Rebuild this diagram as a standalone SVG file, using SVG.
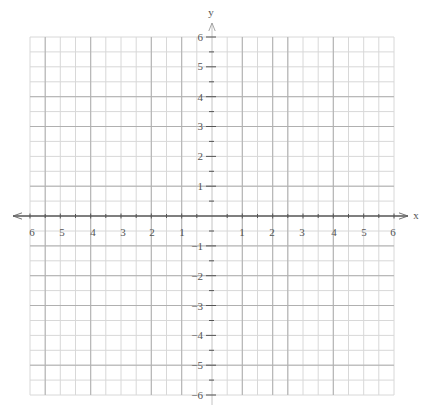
<svg xmlns="http://www.w3.org/2000/svg" width="422" height="405" viewBox="0 0 422 405">
<defs>
<style>
.g{stroke:#d8d8d8;stroke-width:1;fill:none}
.d{stroke:#b0b0b0;stroke-width:1;fill:none}
.ax{stroke:#555;stroke-width:1.3;fill:none}
.ya{stroke:#c4c4c4;stroke-width:1;fill:none}
.tk{stroke:#555;stroke-width:1;fill:none}
.t{font-family:"Liberation Serif",serif;font-size:11px;fill:#555}
.tx{text-anchor:middle}
.ty{text-anchor:end}
</style>
<marker id="ar" viewBox="0 0 10 10" refX="10" refY="5" markerWidth="9" markerHeight="9" markerUnits="userSpaceOnUse" orient="auto">
<path d="M0,1.5 L10,5 L0,8.5" fill="none" stroke="#666" stroke-width="1"/>
</marker>
<marker id="ary" viewBox="0 0 10 10" refX="10" refY="5" markerWidth="8" markerHeight="8" markerUnits="userSpaceOnUse" orient="auto">
<path d="M0,1 L10,5 L0,9" fill="none" stroke="#999" stroke-width="1.1"/>
</marker>
</defs>
<rect width="422" height="405" fill="#fff"/>
<g id="grid">
<path class="g" d="M30,37V395M45.2,37V395M60.3,37V395M75.5,37V395M90.7,37V395M105.8,37V395M121,37V395M136.2,37V395M151.3,37V395M166.5,37V395M181.7,37V395M196.8,37V395M227.2,37V395M242.3,37V395M257.5,37V395M272.7,37V395M287.8,37V395M303,37V395M318.2,37V395M333.3,37V395M348.5,37V395M363.7,37V395M378.8,37V395M394,37V395"/>
<path class="g" d="M30,37H394M30,51.9H394M30,66.8H394M30,81.8H394M30,96.7H394M30,111.6H394M30,126.5H394M30,141.4H394M30,156.4H394M30,171.3H394M30,186.2H394M30,201.1H394M30,231H394M30,245.9H394M30,260.8H394M30,275.7H394M30,290.6H394M30,305.5H394M30,320.5H394M30,335.4H394M30,350.3H394M30,365.2H394M30,380.1H394M30,395H394"/>
<path class="d" d="M45.2,37V395M90.7,37V395M151.3,37V395M181.7,37V395M242.3,37V395M272.7,37V395M287.8,37V395M333.3,37V395"/>
<path class="d" d="M30,96.7H394M30,126.5H394M30,186.2H394M30,245.9H394M30,275.7H394M30,305.5H394M30,365.2H394"/>
</g>
<g id="connectors">
<line id="y-axis" class="ya" x1="212" y1="405" x2="212" y2="23" marker-end="url(#ary)"/>
<line id="x-axis" class="ax" x1="212" y1="216" x2="408" y2="216" marker-end="url(#ar)"/>
<line class="ax" x1="212" y1="216" x2="13" y2="216" marker-end="url(#ar)"/>
<path class="tk" d="M30,213.5V218.5M45.2,214V218M60.3,213.5V218.5M75.5,214V218M90.7,213.5V218.5M105.8,214V218M121,213.5V218.5M136.2,214V218M151.3,213.5V218.5M166.5,214V218M181.7,213.5V218.5M196.8,214V218M227.2,214V218M242.3,213.5V218.5M257.5,214V218M272.7,213.5V218.5M287.8,214V218M303,213.5V218.5M318.2,214V218M333.3,213.5V218.5M348.5,214V218M363.7,213.5V218.5M378.8,214V218M394,213.5V218.5"/>
<path class="tk" d="M206,37H216M209,51.9H214M206,66.8H216M209,81.8H214M206,96.7H216M209,111.6H214M206,126.5H216M209,141.4H214M206,156.4H216M209,171.3H214M206,186.2H216M209,201.1H214M209,231H214M206,245.9H216M209,260.8H214M206,275.7H216M209,290.6H214M206,305.5H216M209,320.5H214M206,335.4H216M209,350.3H214M206,365.2H216M209,380.1H214M206,395H216"/>
</g>
<g id="labels" class="t">
<text x="211" y="16" class="tx">y</text>
<text x="416" y="219" class="tx">x</text>
<g class="tx">
<text x="32" y="236">6</text>
<text x="62" y="236">5</text>
<text x="93" y="236">4</text>
<text x="123" y="236">3</text>
<text x="152" y="236">2</text>
<text x="182" y="236">1</text>
<text x="242" y="236">1</text>
<text x="272" y="236">2</text>
<text x="302" y="236">3</text>
<text x="334" y="236">4</text>
<text x="364" y="236">5</text>
<text x="393" y="236">6</text>
</g>
<g class="ty">
<text x="203" y="41">6</text>
<text x="203" y="70">5</text>
<text x="203" y="101">4</text>
<text x="203" y="130">3</text>
<text x="203" y="160">2</text>
<text x="203" y="190">1</text>
<text x="203" y="250">−1</text>
<text x="203" y="280">−2</text>
<text x="203" y="310">−3</text>
<text x="203" y="339">−4</text>
<text x="203" y="369">−5</text>
<text x="203" y="399">−6</text>
</g>
</g>
</svg>
